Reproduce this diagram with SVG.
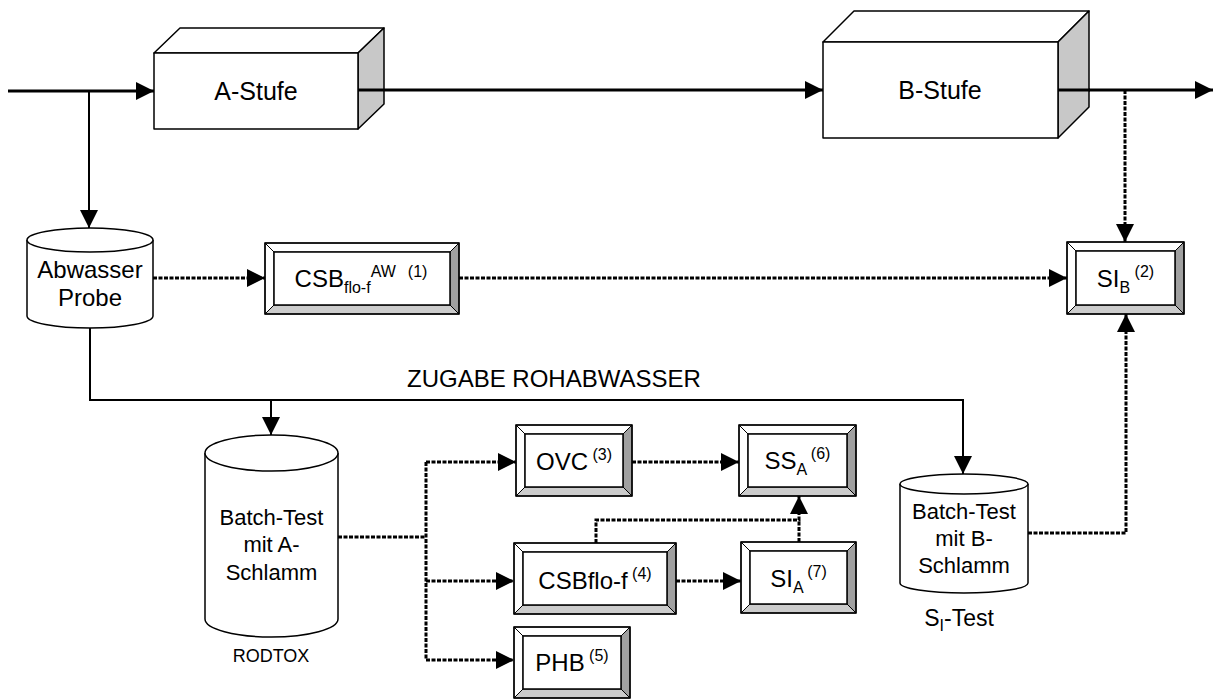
<svg xmlns="http://www.w3.org/2000/svg" width="1213" height="699" viewBox="0 0 1213 699">
  <style>
    text { font-family: "Liberation Sans", Arial, sans-serif; fill: #000; }
    .big { font-size: 24px; }
    .lbl { font-size: 24px; }
    .cyl { font-size: 22px; }
    .sm { font-size: 16px; }
    .flow { fill: none; stroke: #000; stroke-width: 3; }
    .thin { fill: none; stroke: #000; stroke-width: 2; }
    .dot { fill: none; stroke: #000; stroke-width: 3; stroke-dasharray: 4 1.5; }
    .face { fill: #fff; stroke: #000; stroke-width: 1.5; stroke-linejoin: round; }
    .side { fill: #c8c8c8; stroke: #000; stroke-width: 1.5; stroke-linejoin: round; }
    .bv-l { fill: #fff; stroke: #000; stroke-width: 1; }
    .bv-r { fill: #a0a0a0; stroke: #000; stroke-width: 1; }
    .bv-b { fill: #cccccc; stroke: #000; stroke-width: 1; }
    .outer { fill: none; stroke: #000; stroke-width: 1.5; }
    .inner { fill: #fff; stroke: #000; stroke-width: 1.5; }
  </style>
  <defs>
    <marker id="arrow" markerUnits="userSpaceOnUse" markerWidth="19" markerHeight="19" refX="18" refY="9" orient="auto">
      <path d="M0,0 L18,9 L0,18 z" fill="#000"/>
    </marker>
  </defs>

  <rect width="1213" height="699" fill="#fff"/>

  <!-- connectors -->
  <g id="connectors">
    <line class="flow" x1="8" y1="91" x2="154" y2="91" marker-end="url(#arrow)"/>
    <line class="thin" x1="89" y1="91" x2="89" y2="228" marker-end="url(#arrow)"/>
    <line class="flow" x1="358" y1="90" x2="823" y2="90" marker-end="url(#arrow)"/>
    <line class="flow" x1="1058" y1="90" x2="1213" y2="90" marker-end="url(#arrow)"/>
    <line class="dot" x1="1125" y1="90" x2="1125" y2="242" marker-end="url(#arrow)"/>
    <line class="dot" x1="153" y1="278" x2="265" y2="278" marker-end="url(#arrow)"/>
    <line class="dot" x1="459" y1="278" x2="1067" y2="278" marker-end="url(#arrow)"/>
    <polyline class="thin" points="90,328 90,400 963,400 963,474" marker-end="url(#arrow)"/>
    <line class="thin" x1="271" y1="400" x2="271" y2="435" marker-end="url(#arrow)"/>
    <line class="dot" x1="338" y1="537" x2="426" y2="537"/>
    <line class="dot" x1="426" y1="462" x2="426" y2="660"/>
    <line class="dot" x1="426" y1="462" x2="516" y2="462" marker-end="url(#arrow)"/>
    <line class="dot" x1="426" y1="581" x2="514" y2="581" marker-end="url(#arrow)"/>
    <line class="dot" x1="426" y1="660" x2="514" y2="660" marker-end="url(#arrow)"/>
    <line class="dot" x1="632" y1="462" x2="739" y2="462" marker-end="url(#arrow)"/>
    <polyline class="dot" points="596,543 596,520 799,520 799,496" marker-end="url(#arrow)"/>
    <line class="dot" x1="799" y1="542" x2="799" y2="520"/>
    <line class="dot" x1="676" y1="581" x2="741" y2="581" marker-end="url(#arrow)"/>
    <polyline class="dot" points="1028,533 1126,533 1126,314" marker-end="url(#arrow)"/>
    <text class="big" x="407" y="387">ZUGABE ROHABWASSER</text>
  </g>

  <!-- treatment stages -->
  <g id="a-stufe">
    <polygon class="face" points="154,53 180,28 384,28 358,53"/>
    <polygon class="side" points="358,53 384,28 384,104 358,129"/>
    <rect class="face" x="154" y="53" width="204" height="76"/>
    <line class="flow" x1="358" y1="90" x2="384" y2="90"/>
    <text x="256" y="100" font-size="25" text-anchor="middle">A-Stufe</text>
  </g>
  <g id="b-stufe">
    <polygon class="face" points="823,42 854,11 1089,11 1058,42"/>
    <polygon class="side" points="1058,42 1089,11 1089,107 1058,138"/>
    <rect class="face" x="823" y="42" width="235" height="96"/>
    <line class="flow" x1="1058" y1="90" x2="1090" y2="90"/>
    <text x="940" y="99" font-size="25" text-anchor="middle">B-Stufe</text>
  </g>

  <!-- samples and batch tests -->
  <g id="abwasser-probe">
    <path class="face" d="M27,240 L27,316 A63,12 0 0 0 153,316 L153,240"/>
    <ellipse class="face" cx="90" cy="240" rx="63" ry="12"/>
    <text class="big" x="90" y="278" text-anchor="middle">Abwasser</text>
    <text class="big" x="90" y="306" text-anchor="middle">Probe</text>
  </g>
  <g id="batch-a">
    <path class="face" d="M205,453 L205,619 A66.5,18 0 0 0 338,619 L338,453"/>
    <ellipse class="face" cx="271.5" cy="453" rx="66.5" ry="18"/>
    <text class="cyl" x="271.5" y="525" text-anchor="middle">Batch-Test</text>
    <text class="cyl" x="271.5" y="552" text-anchor="middle">mit A-</text>
    <text class="cyl" x="271.5" y="580" text-anchor="middle">Schlamm</text>
    <text x="271" y="662" font-size="18" text-anchor="middle">RODTOX</text>
  </g>
  <g id="batch-b">
    <path class="face" d="M900,484 L900,583 A64,10 0 0 0 1028,583 L1028,484"/>
    <ellipse class="face" cx="964" cy="484" rx="64" ry="10"/>
    <text class="cyl" x="964" y="519" text-anchor="middle">Batch-Test</text>
    <text class="cyl" x="964" y="546" text-anchor="middle">mit B-</text>
    <text class="cyl" x="964" y="573" text-anchor="middle">Schlamm</text>
    <text x="959" y="626" font-size="23" text-anchor="middle">S<tspan font-size="16" dy="5">I</tspan><tspan dy="-5">-Test</tspan></text>
  </g>

  <!-- measured quantities (bevelled boxes) -->
  <g id="csb-aw">
    <polygon class="bv-l" points="265,243 459,243 450,252 274,252"/>
    <polygon class="bv-l" points="265,243 274,252 274,305 265,314"/>
    <polygon class="bv-r" points="459,243 459,314 450,305 450,252"/>
    <polygon class="bv-b" points="265,314 459,314 450,305 274,305"/>
    <rect class="inner" x="274" y="252" width="176" height="53"/>
    <rect class="outer" x="265" y="243" width="194" height="71"/>
    <text x="361" y="287" font-size="24" text-anchor="middle">CSB<tspan class="sm" dy="6">flo-f</tspan><tspan class="sm" dy="-16">AW</tspan><tspan class="sm" dx="12">(1)</tspan></text>
  </g>
  <g id="si-b">
    <polygon class="bv-l" points="1067,242 1184,242 1175,251 1076,251"/>
    <polygon class="bv-l" points="1067,242 1076,251 1076,305 1067,314"/>
    <polygon class="bv-r" points="1184,242 1184,314 1175,305 1175,251"/>
    <polygon class="bv-b" points="1067,314 1184,314 1175,305 1076,305"/>
    <rect class="inner" x="1076" y="251" width="99" height="54"/>
    <rect class="outer" x="1067" y="242" width="117" height="72"/>
    <text x="1125.5" y="287" class="lbl" text-anchor="middle">SI<tspan class="sm" dy="6">B</tspan><tspan class="sm" dy="-16"> (2)</tspan></text>
  </g>
  <g id="ovc">
    <polygon class="bv-l" points="516,425 632,425 623,434 525,434"/>
    <polygon class="bv-l" points="516,425 525,434 525,487 516,496"/>
    <polygon class="bv-r" points="632,425 632,496 623,487 623,434"/>
    <polygon class="bv-b" points="516,496 632,496 623,487 525,487"/>
    <rect class="inner" x="525" y="434" width="98" height="53"/>
    <rect class="outer" x="516" y="425" width="116" height="71"/>
    <text x="574" y="470" class="lbl" text-anchor="middle">OVC<tspan class="sm" dy="-10"> (3)</tspan></text>
  </g>
  <g id="ss-a">
    <polygon class="bv-l" points="739,425 856,425 847,434 748,434"/>
    <polygon class="bv-l" points="739,425 748,434 748,487 739,496"/>
    <polygon class="bv-r" points="856,425 856,496 847,487 847,434"/>
    <polygon class="bv-b" points="739,496 856,496 847,487 748,487"/>
    <rect class="inner" x="748" y="434" width="99" height="53"/>
    <rect class="outer" x="739" y="425" width="117" height="71"/>
    <text x="797.5" y="469" class="lbl" text-anchor="middle">SS<tspan class="sm" dy="6">A</tspan><tspan class="sm" dy="-16"> (6)</tspan></text>
  </g>
  <g id="csb-flo-f">
    <polygon class="bv-l" points="514,543 676,543 667,552 523,552"/>
    <polygon class="bv-l" points="514,543 523,552 523,605 514,614"/>
    <polygon class="bv-r" points="676,543 676,614 667,605 667,552"/>
    <polygon class="bv-b" points="514,614 676,614 667,605 523,605"/>
    <rect class="inner" x="523" y="552" width="144" height="53"/>
    <rect class="outer" x="514" y="543" width="162" height="71"/>
    <text x="595" y="589" class="lbl" text-anchor="middle">CSBflo-f<tspan class="sm" dy="-10"> (4)</tspan></text>
  </g>
  <g id="si-a">
    <polygon class="bv-l" points="741,542 856,542 847,551 750,551"/>
    <polygon class="bv-l" points="741,542 750,551 750,604 741,613"/>
    <polygon class="bv-r" points="856,542 856,613 847,604 847,551"/>
    <polygon class="bv-b" points="741,613 856,613 847,604 750,604"/>
    <rect class="inner" x="750" y="551" width="97" height="53"/>
    <rect class="outer" x="741" y="542" width="115" height="71"/>
    <text x="798.5" y="587" class="lbl" text-anchor="middle">SI<tspan class="sm" dy="6">A</tspan><tspan class="sm" dy="-16"> (7)</tspan></text>
  </g>
  <g id="phb">
    <polygon class="bv-l" points="514,627 630,627 621,636 523,636"/>
    <polygon class="bv-l" points="514,627 523,636 523,689 514,698"/>
    <polygon class="bv-r" points="630,627 630,698 621,689 621,636"/>
    <polygon class="bv-b" points="514,698 630,698 621,689 523,689"/>
    <rect class="inner" x="523" y="636" width="98" height="53"/>
    <rect class="outer" x="514" y="627" width="116" height="71"/>
    <text x="572" y="671" class="lbl" text-anchor="middle">PHB<tspan class="sm" dy="-10"> (5)</tspan></text>
  </g>
</svg>
